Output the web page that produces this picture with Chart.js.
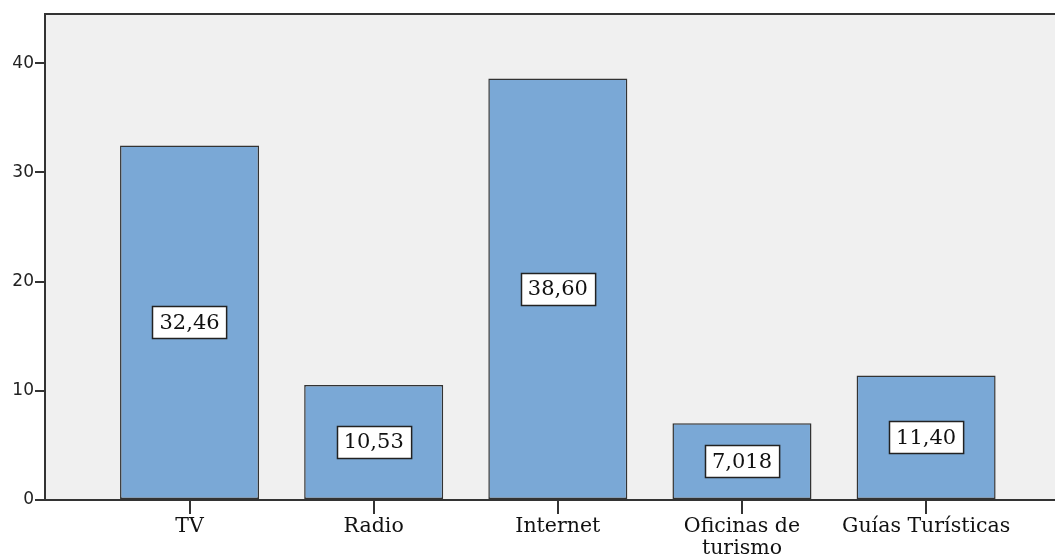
<!DOCTYPE html>
<html>
<head>
<meta charset="utf-8">
<script src="https://cdn.jsdelivr.net/npm/chart.js@4/dist/chart.umd.min.js"></script>
<style>
  html, body { margin: 0; padding: 0; background: #ffffff; overflow: hidden; }
  #wrap { width: 1055px; height: 558px; }
</style>
</head>
<body>
<div id="wrap"><canvas id="c" width="1055" height="558"></canvas></div>
<script>
// Medios de información (%)
const categories = ['TV', 'Radio', 'Internet', ['Oficinas de', 'turismo'], 'Guías Turísticas'];
const values = [32.46, 10.53, 38.60, 7.018, 11.40];
const yTicks = [0, 10, 20, 30, 40];

const points = values.map((v, i) => ({ x: i, y: v }));
const fmt = v => v.toPrecision(4).replace('.', ',');

const plotFrame = {
  id: 'plotFrame',
  beforeDraw(chart) {
    const { ctx, chartArea: a } = chart;
    ctx.save();
    ctx.fillStyle = '#f0f0f0';
    ctx.fillRect(a.left, a.top, a.right - a.left, a.bottom - a.top);
    ctx.restore();
  },
  afterDraw(chart) {
    const { ctx, chartArea: a } = chart;
    ctx.save();
    ctx.strokeStyle = '#333333';
    ctx.lineWidth = 2;
    ctx.beginPath();
    ctx.moveTo(a.left - 1, a.top);
    ctx.lineTo(a.right, a.top);
    ctx.stroke();
    ctx.restore();
  }
};

const valueBoxes = {
  id: 'valueBoxes',
  afterDatasetsDraw(chart) {
    const { ctx } = chart;
    const meta = chart.getDatasetMeta(0);
    ctx.save();
    ctx.font = '21px "DejaVu Serif"';
    ctx.textAlign = 'center';
    ctx.textBaseline = 'middle';
    meta.data.forEach((bar, i) => {
      const txt = fmt(values[i]);
      const cy = (bar.y + bar.base) / 2;
      const w = ctx.measureText(txt).width + 14;
      const h = 32;
      const x0 = Math.round(bar.x - w / 2) + 0.5;
      const y0 = Math.round(cy - h / 2) + 0.5;
      ctx.fillStyle = '#ffffff';
      ctx.fillRect(x0, y0, w, h);
      ctx.strokeStyle = '#222222';
      ctx.lineWidth = 1.5;
      ctx.strokeRect(x0, y0, w, h);
      ctx.fillStyle = '#111111';
      ctx.fillText(txt, bar.x, cy + 1);
    });
    ctx.restore();
  }
};

new Chart(document.getElementById('c'), {
  type: 'bar',
  data: {
    datasets: [{
      data: points,
      backgroundColor: '#7aa8d6',
      borderColor: '#333333',
      borderWidth: 1.5,
      borderSkipped: false,
      barPercentage: 0.755,
      categoryPercentage: 1
    }]
  },
  options: {
    responsive: false,
    animation: false,
    layout: { padding: { top: 14, right: 0, left: 0, bottom: 0 } },
    plugins: { legend: { display: false }, tooltip: { enabled: false } },
    scales: {
      x: {
        type: 'linear',
        offset: false,
        min: -0.785,
        max: 4.70,
        afterFit(s) { s.height = 58; },
        afterBuildTicks(s) { s.ticks = categories.map((_, i) => ({ value: i })); },
        ticks: {
          autoSkip: false,
          maxRotation: 0,
          padding: 2,
          color: '#111111',
          font: { family: '"DejaVu Serif"', size: 20.5, lineHeight: 1.05 },
          callback: v => categories[v]
        },
        grid: { display: true, offset: false, drawOnChartArea: false, tickLength: 14, color: '#333333', lineWidth: 2 },
        border: { display: true, color: '#333333', width: 2 }
      },
      y: {
        min: 0,
        max: 44.5,
        afterFit(s) { s.width = 45; },
        afterBuildTicks(s) { s.ticks = yTicks.map(v => ({ value: v })); },
        ticks: {
          padding: 1,
          color: '#222222',
          font: { family: '"DejaVu Sans"', size: 17 }
        },
        grid: { display: true, drawOnChartArea: false, tickLength: 10, color: '#333333', lineWidth: 2 },
        border: { display: true, color: '#333333', width: 2 }
      }
    }
  },
  plugins: [plotFrame, valueBoxes]
});
</script>
</body>
</html>
